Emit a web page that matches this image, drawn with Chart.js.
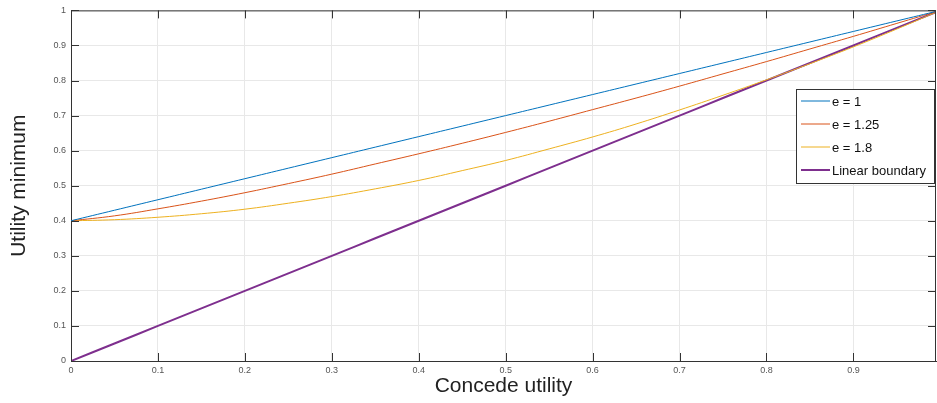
<!DOCTYPE html>
<html>
<head>
<meta charset="utf-8">
<script src="https://cdn.jsdelivr.net/npm/chart.js@4"></script>
<style>
  body { margin: 0; background: #fff; }
  #wrap { width: 937px; height: 403px; }
</style>
</head>
<body>
<div id="wrap"><canvas id="curveChart"></canvas></div>
<script>
// concede utility samples
const xs = [0, 0.05, 0.1, 0.15, 0.2, 0.25, 0.3, 0.35, 0.4, 0.45, 0.5,
            0.55, 0.6, 0.65, 0.7, 0.75, 0.8, 0.85, 0.9, 0.95, 1];

// utility minimum, one array per curve
const e1 = [0.4, 0.43, 0.46, 0.49, 0.52, 0.55, 0.58, 0.61, 0.64, 0.67, 0.7,
            0.73, 0.76, 0.79, 0.82, 0.85, 0.88, 0.91, 0.94, 0.97, 1];
const e125 = [0.4, 0.414, 0.434, 0.456, 0.48, 0.506, 0.533, 0.562, 0.591, 0.621, 0.652,
              0.684, 0.717, 0.75, 0.784, 0.819, 0.854, 0.89, 0.926, 0.963, 1];
const e18 = [0.4, 0.403, 0.41, 0.42, 0.433, 0.45, 0.469, 0.491, 0.515, 0.543, 0.572,
             0.605, 0.639, 0.676, 0.716, 0.758, 0.802, 0.848, 0.896, 0.947, 1];
const boundary = [0, 0.05, 0.1, 0.15, 0.2, 0.25, 0.3, 0.35, 0.4, 0.45, 0.5,
                  0.55, 0.6, 0.65, 0.7, 0.75, 0.8, 0.85, 0.9, 0.95, 1];

const seriesNames = ['e = 1', 'e = 1.25', 'e = 1.8', 'Linear boundary'];
const seriesColors = ['#0072BD', '#D95319', '#EDB120', '#7E2F8E'];
const seriesWidths = [1, 1, 1, 2];
const yTicks = [0, 0.1, 0.2, 0.3, 0.4, 0.5, 0.6, 0.7, 0.8, 0.9, 1];
const xTicks = [0, 0.1, 0.2, 0.3, 0.4, 0.5, 0.6, 0.7, 0.8, 0.9];

const FONT = '"Liberation Sans", Arial, sans-serif';
const toPoints = arr => arr.map((v, i) => ({ x: xs[i], y: v }));

// matlab-style box: inward ticks on all four sides + legend box inside
const boxPlugin = {
    id: 'boxPlugin',
    afterDraw(chart) {
        const { ctx, chartArea: a, scales } = chart;
        ctx.save();
        ctx.strokeStyle = '#333';
        ctx.lineWidth = 1;
        ctx.beginPath();
        ctx.moveTo(a.left, a.top + 0.5);
        ctx.lineTo(a.right, a.top + 0.5);
        ctx.moveTo(a.right - 0.5, a.top);
        ctx.lineTo(a.right - 0.5, a.bottom);
        xTicks.forEach(t => {
            const px = Math.round(scales.x.getPixelForValue(t)) + 0.5;
            ctx.moveTo(px, a.bottom); ctx.lineTo(px, a.bottom - 8);
            ctx.moveTo(px, a.top); ctx.lineTo(px, a.top + 8);
        });
        yTicks.forEach(t => {
            const py = Math.round(scales.y.getPixelForValue(t)) + 0.5;
            ctx.moveTo(a.left, py); ctx.lineTo(a.left + 8, py);
            ctx.moveTo(a.right, py); ctx.lineTo(a.right - 8, py);
        });
        ctx.stroke();

        // legend
        const lx = 796, ly = 89, lw = 139, lh = 95;
        ctx.fillStyle = '#fff';
        ctx.fillRect(lx, ly, lw, lh);
        ctx.strokeStyle = '#333';
        ctx.strokeRect(lx + 0.5, ly + 0.5, lw - 1, lh - 1);
        ctx.font = '13px ' + FONT;
        ctx.textBaseline = 'middle';
        chart.data.datasets.forEach((ds, i) => {
            const ry = ly + 12 + i * 23;
            ctx.strokeStyle = ds.borderColor;
            ctx.lineWidth = ds.borderWidth;
            ctx.beginPath();
            ctx.moveTo(801, ry);
            ctx.lineTo(830, ry);
            ctx.stroke();
            ctx.fillStyle = '#111';
            ctx.fillText(ds.label, 832, ry + 1);
        });
        ctx.restore();
    }
};

new Chart(document.getElementById('curveChart'), {
    type: 'line',
    data: {
        datasets: [e1, e125, e18, boundary].map((arr, i) => ({
            label: seriesNames[i],
            data: toPoints(arr),
            borderColor: seriesColors[i],
            backgroundColor: seriesColors[i],
            borderWidth: seriesWidths[i],
            pointRadius: 0,
            tension: 0.4,
            fill: false
        }))
    },
    options: {
        responsive: true,
        maintainAspectRatio: false,
        animation: false,
        layout: { padding: { top: 10, right: 1, left: 0, bottom: 0 } },
        plugins: { legend: { display: false }, tooltip: { enabled: false } },
        scales: {
            x: {
                type: 'linear',
                min: 0,
                max: 0.995,
                afterFit: s => { s.height = 42; },
                afterBuildTicks: s => { s.ticks = xTicks.map(v => ({ value: v })); },
                ticks: {
                    font: { size: 9, family: FONT },
                    color: '#555',
                    padding: 4,
                    maxRotation: 0,
                    callback: v => String(Math.round(v * 10) / 10)
                },
                grid: { color: '#e8e8e8', drawTicks: false },
                border: { color: '#333' },
                title: {
                    display: true,
                    text: 'Concede utility',
                    font: { size: 21, family: FONT },
                    color: '#222',
                    padding: { top: 0, bottom: 4 }
                }
            },
            y: {
                min: 0,
                max: 1,
                afterFit: s => { s.width = 71; },
                afterBuildTicks: s => { s.ticks = yTicks.map(v => ({ value: v })); },
                ticks: {
                    font: { size: 9, family: FONT },
                    color: '#555',
                    padding: 5,
                    callback: v => String(Math.round(v * 10) / 10)
                },
                grid: { color: '#e8e8e8', drawTicks: false },
                border: { color: '#333' },
                title: {
                    display: true,
                    text: 'Utility minimum',
                    font: { size: 21, family: FONT },
                    color: '#222',
                    padding: { top: 7, bottom: 0 }
                }
            }
        }
    },
    plugins: [boxPlugin]
});
</script>
</body>
</html>
